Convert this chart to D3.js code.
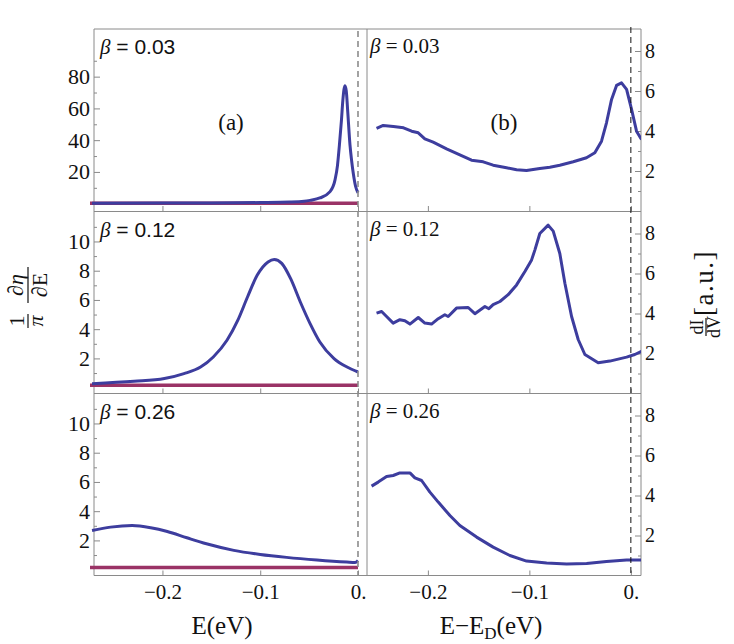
<!DOCTYPE html>
<html>
<head>
<meta charset="utf-8">
<script src="https://cdnjs.cloudflare.com/ajax/libs/d3/7.8.5/d3.min.js"></script>
<style>
  body { margin: 0; background: #fff; }
  .frame { stroke: #8a8a8a; stroke-width: 1; fill: none; }
  .tick line { stroke: #8a8a8a; }
</style>
</head>
<body>
<script>
  "use strict";
  // ---- data ----
  var betas = ["0.03", "0.12", "0.26"];

  // (a) theory, blue curves
  var aE1 = [-0.272, -0.2, -0.15, -0.1, -0.07, -0.055, -0.049, -0.039, -0.0286, -0.0235, -0.021, -0.019, -0.017, -0.0155, -0.0143, -0.0133, -0.012, -0.0105, -0.0082, -0.0065, -0.0048, -0.0025, 0];
  var aV1 = [0.3, 0.4, 0.5, 0.7, 1.0, 1.5, 2.1, 3.6, 7.6, 15, 24, 37, 52, 65, 72, 74.3, 71, 58, 37, 27, 19, 11, 6.9];
  var aE2 = [-0.272, -0.229, -0.198, -0.178, -0.161, -0.148, -0.134, -0.123, -0.113, -0.103, -0.092, -0.0857, -0.078, -0.069, -0.059, -0.049, -0.039, -0.0245, -0.0112, 0];
  var aV2 = [0.27, 0.43, 0.62, 0.96, 1.41, 2.1, 3.24, 4.6, 6.2, 7.7, 8.6, 8.77, 8.5, 7.47, 5.86, 4.38, 3.12, 1.99, 1.41, 1.07];
  var aE3 = [-0.272, -0.253, -0.231, -0.212, -0.195, -0.175, -0.155, -0.127, -0.1, -0.073, -0.042, -0.0115, -0.003, 0];
  var aV3 = [2.68, 2.91, 3.02, 2.87, 2.61, 2.18, 1.77, 1.32, 1.04, 0.84, 0.66, 0.52, 0.49, 0.63];
  // (a) flat red curves
  var redE = [-0.275, 0];
  var redV = [0.3, 0.16, 0.15];

  // (b) experiment dI/dV
  var bE1 = [-0.2506, -0.244, -0.234, -0.224, -0.216, -0.2095, -0.203, -0.1948, -0.1816, -0.1685, -0.157, -0.1455, -0.1357, -0.1225, -0.1126, -0.1028, -0.0897, -0.0798, -0.07, -0.0568, -0.0437, -0.0355, -0.0289, -0.024, -0.019, -0.0141, -0.0092, -0.0042, 0.0007, 0.0056, 0.0105];
  var bV1 = [4.13, 4.28, 4.23, 4.16, 3.99, 3.91, 3.61, 3.44, 3.11, 2.81, 2.54, 2.46, 2.29, 2.16, 2.06, 2.03, 2.13, 2.19, 2.29, 2.46, 2.66, 2.91, 3.49, 4.41, 5.58, 6.28, 6.41, 6.08, 5.08, 3.99, 3.58];
  var bE2 = [-0.2506, -0.2456, -0.2407, -0.2342, -0.2276, -0.2227, -0.2177, -0.2095, -0.203, -0.1964, -0.1898, -0.1833, -0.18, -0.1718, -0.1603, -0.1537, -0.1438, -0.1399, -0.1357, -0.129, -0.1209, -0.1126, -0.1044, -0.0978, -0.0946, -0.0897, -0.0815, -0.0765, -0.07, -0.065, -0.0584, -0.0519, -0.0453, -0.0322, -0.0207, -0.0042, 0.0039, 0.0105];
  var bV2 = [4.02, 4.1, 3.85, 3.52, 3.69, 3.64, 3.47, 3.8, 3.52, 3.47, 3.74, 3.94, 3.85, 4.27, 4.3, 3.99, 4.35, 4.24, 4.44, 4.6, 4.94, 5.43, 6.1, 6.68, 7.17, 8.0, 8.42, 8.12, 7.0, 5.51, 3.85, 2.7, 1.95, 1.54, 1.62, 1.82, 1.95, 2.11];
  var bE3 = [-0.2555, -0.249, -0.2407, -0.2342, -0.2276, -0.2177, -0.2128, -0.2062, -0.198, -0.1898, -0.1783, -0.1685, -0.152, -0.1357, -0.1192, -0.1028, -0.083, -0.0633, -0.0436, -0.024, -0.0042, 0.012];
  var bV3 = [4.47, 4.67, 4.95, 5.0, 5.13, 5.13, 4.88, 4.75, 4.17, 3.67, 3.0, 2.5, 1.92, 1.42, 1.0, 0.72, 0.62, 0.57, 0.6, 0.7, 0.77, 0.77];

  var xTicks = [-0.2, -0.1, 0];
  var xTickLabels = ["\u22120.2", "\u22120.1", "0."];
  var aMajor = [[20, 40, 60, 80], [2, 4, 6, 8, 10], [2, 4, 6, 8, 10]];
  var aMinor = [[10, 30, 50, 70, 90], [1, 3, 5, 7, 9, 11], [1, 3, 5, 7, 9, 11]];
  var bMajor = [2, 4, 6, 8];
  var bMinor = [1, 3, 5, 7];

  var blue = "#3d3d9e", red = "#9a3366";
  var SERIF = "'Liberation Serif', 'Times New Roman', serif";
  var SANS = "'Liberation Sans', Arial, sans-serif";

  // ---- layout ----
  var W = 734, H = 644;
  var rowTop = [29, 211.5, 393.5], rowH = 182;
  var svg = d3.select("body").append("svg").attr("width", W).attr("height", H);

  var xa = d3.scaleLinear().domain([-0.27, 0]).range([94, 358]);
  var xb = d3.scaleLinear().domain([-0.26, 0.01]).range([367, 641]);
  var aDom = [[-4.6, 110], [-0.4, 12.05], [-0.4, 12.05]];

  var aSeries = [[aE1, aV1], [aE2, aV2], [aE3, aV3]];
  var bSeries = [[bE1, bV1], [bE2, bV2], [bE3, bV3]];

  function pts(E, V) { return E.map(function(e, i) { return [e, V[i]]; }); }
  function txt(sel, size) {
    return sel.append("text").style("font-family", SERIF).style("font-size", size + "px").attr("fill", "#111");
  }

  // clip paths
  var defs = svg.append("defs");
  for (var r = 0; r < 3; r++) {
    defs.append("clipPath").attr("id", "ca" + r).append("rect")
      .attr("x", 90).attr("y", rowTop[r]).attr("width", 270).attr("height", rowH);
    defs.append("clipPath").attr("id", "cb" + r).append("rect")
      .attr("x", 367).attr("y", rowTop[r]).attr("width", 274).attr("height", rowH);
  }

  // frames
  var bottom = rowTop[2] + rowH;
  [rowTop[0], rowTop[1], rowTop[2], bottom].forEach(function(y) {
    svg.append("line").attr("class", "frame").attr("x1", 94).attr("x2", 641).attr("y1", y).attr("y2", y);
  });
  [94, 367, 641].forEach(function(x) {
    svg.append("line").attr("class", "frame").attr("x1", x).attr("x2", x).attr("y1", rowTop[0]).attr("y2", bottom);
  });

  function styleAxis(g, size) {
    g.selectAll(".domain").remove();
    g.selectAll("text").style("font-family", SERIF).style("font-size", size + "px").attr("fill", "#111");
  }

  for (var r = 0; r < 3; r++) {
    var y0 = rowTop[r], y1 = y0 + rowH;
    var ya = d3.scaleLinear().domain(aDom[r]).range([y1, y0]);
    var yb = d3.scaleLinear().domain([0, 9.1]).range([y1, y0]);

    // left axis (a)
    var gl = svg.append("g").attr("transform", "translate(94,0)");
    gl.append("g").call(d3.axisLeft(ya).tickValues(aMajor[r]).tickSize(-6).tickPadding(4).tickFormat(d3.format("d")));
    gl.append("g").call(d3.axisLeft(ya).tickValues(aMinor[r]).tickSize(-3).tickFormat(""));
    styleAxis(gl, 22);

    // right axis (b)
    var gr = svg.append("g").attr("transform", "translate(641,0)");
    gr.append("g").call(d3.axisRight(yb).tickValues(bMajor).tickSize(-6).tickPadding(4).tickFormat(d3.format("d")));
    gr.append("g").call(d3.axisRight(yb).tickValues(bMinor).tickSize(-3).tickFormat(""));
    styleAxis(gr, 20);

    // bottom ticks
    [xa, xb].forEach(function(xs) {
      var g = svg.append("g").attr("transform", "translate(0," + y1 + ")")
        .call(d3.axisBottom(xs).tickValues(xTicks).tickSize(-5).tickPadding(9)
          .tickFormat(function(d, i) { return r === 2 ? xTickLabels[i] : ""; }));
      styleAxis(g, 21);
    });

    // curves (a)
    var la = d3.line().x(function(d) { return xa(d[0]); }).y(function(d) { return ya(d[1]); });
    svg.append("path").attr("clip-path", "url(#ca" + r + ")")
      .attr("d", la(pts(redE, redE.map(function() { return redV[r]; }))))
      .attr("fill", "none").attr("stroke", red).attr("stroke-width", 3.5);
    svg.append("path").attr("clip-path", "url(#ca" + r + ")")
      .attr("d", d3.line().curve(d3.curveMonotoneX).x(la.x()).y(la.y())(pts(aSeries[r][0], aSeries[r][1])))
      .attr("fill", "none").attr("stroke", blue).attr("stroke-width", 3).attr("stroke-linejoin", "round");

    // curves (b)
    var lb = d3.line().x(function(d) { return xb(d[0]); }).y(function(d) { return yb(d[1]); });
    svg.append("path").attr("clip-path", "url(#cb" + r + ")")
      .attr("d", lb(pts(bSeries[r][0], bSeries[r][1])))
      .attr("fill", "none").attr("stroke", blue).attr("stroke-width", 3).attr("stroke-linejoin", "round");

    // beta labels
    var ta = txt(svg, 21).attr("x", 100).attr("y", y0 + 25).style("font-family", SANS);
    ta.append("tspan").style("font-family", SERIF).style("font-style", "italic").text("\u03B2");
    ta.append("tspan").text(" = " + betas[r]);
    var tb = txt(svg, 21).attr("x", 370).attr("y", y0 + 24);
    tb.append("tspan").style("font-style", "italic").text("\u03B2");
    tb.append("tspan").text(" = " + betas[r]);
  }

  // E = 0 dashed markers
  svg.append("line").attr("x1", xa(0)).attr("x2", xa(0)).attr("y1", rowTop[0] + 2).attr("y2", bottom)
    .attr("stroke", "#8c8c8c").attr("stroke-width", 1.6).attr("stroke-dasharray", "6,4");
  svg.append("line").attr("x1", xb(0)).attr("x2", xb(0)).attr("y1", rowTop[0] - 2).attr("y2", bottom)
    .attr("stroke", "#111").attr("stroke-width", 1).attr("stroke-dasharray", "6,4");

  // panel tags
  txt(svg, 23).attr("x", 231).attr("y", 130).attr("text-anchor", "middle").text("(a)");
  txt(svg, 23).attr("x", 504).attr("y", 130).attr("text-anchor", "middle").text("(b)");

  // x axis titles
  txt(svg, 25).attr("x", 222).attr("y", 634).attr("text-anchor", "middle").text("E(eV)");
  var xt = txt(svg, 25).attr("x", 491).attr("y", 634).attr("text-anchor", "middle");
  xt.append("tspan").text("E\u2212E");
  xt.append("tspan").attr("dy", 5).style("font-size", "17px").text("D");
  xt.append("tspan").attr("dy", -5).text("(eV)");

  // left y title: 1/pi d eta / dE
  var gy = svg.append("g").attr("transform", "translate(28,300) rotate(-90)");
  gy.append("line").attr("x1", -28).attr("x2", -14).attr("y1", 0).attr("y2", 0).attr("stroke", "#111").attr("stroke-width", 1.2);
  gy.append("line").attr("x1", -3).attr("x2", 33).attr("y1", 0).attr("y2", 0).attr("stroke", "#111").attr("stroke-width", 1.2);
  txt(gy, 22).attr("x", -21).attr("y", -4).attr("text-anchor", "middle").text("1");
  txt(gy, 22).attr("x", -21).attr("y", 15).attr("text-anchor", "middle").style("font-style", "italic").text("\u03C0");
  txt(gy, 22).attr("x", 15).attr("y", -5).attr("text-anchor", "middle").style("font-style", "italic").text("\u2202\u03B7");
  var de = txt(gy, 22).attr("x", 15).attr("y", 19).attr("text-anchor", "middle");
  de.append("tspan").style("font-style", "italic").text("\u2202");
  de.append("tspan").text("E");

  // right y title: dI/dV [a.u.]
  var gz = svg.append("g").attr("transform", "translate(706,300) rotate(-90)");
  gz.append("line").attr("x1", -36).attr("x2", -18).attr("y1", 0).attr("y2", 0).attr("stroke", "#111").attr("stroke-width", 1.2);
  txt(gz, 18).attr("x", -27).attr("y", -3).attr("text-anchor", "middle").text("dI");
  txt(gz, 18).attr("x", -27).attr("y", 14).attr("text-anchor", "middle").text("dV");
  txt(gz, 27).attr("x", 17).attr("y", 7).attr("text-anchor", "middle").style("letter-spacing", "1.5px").text("[a.u.]");
</script>
</body>
</html>
